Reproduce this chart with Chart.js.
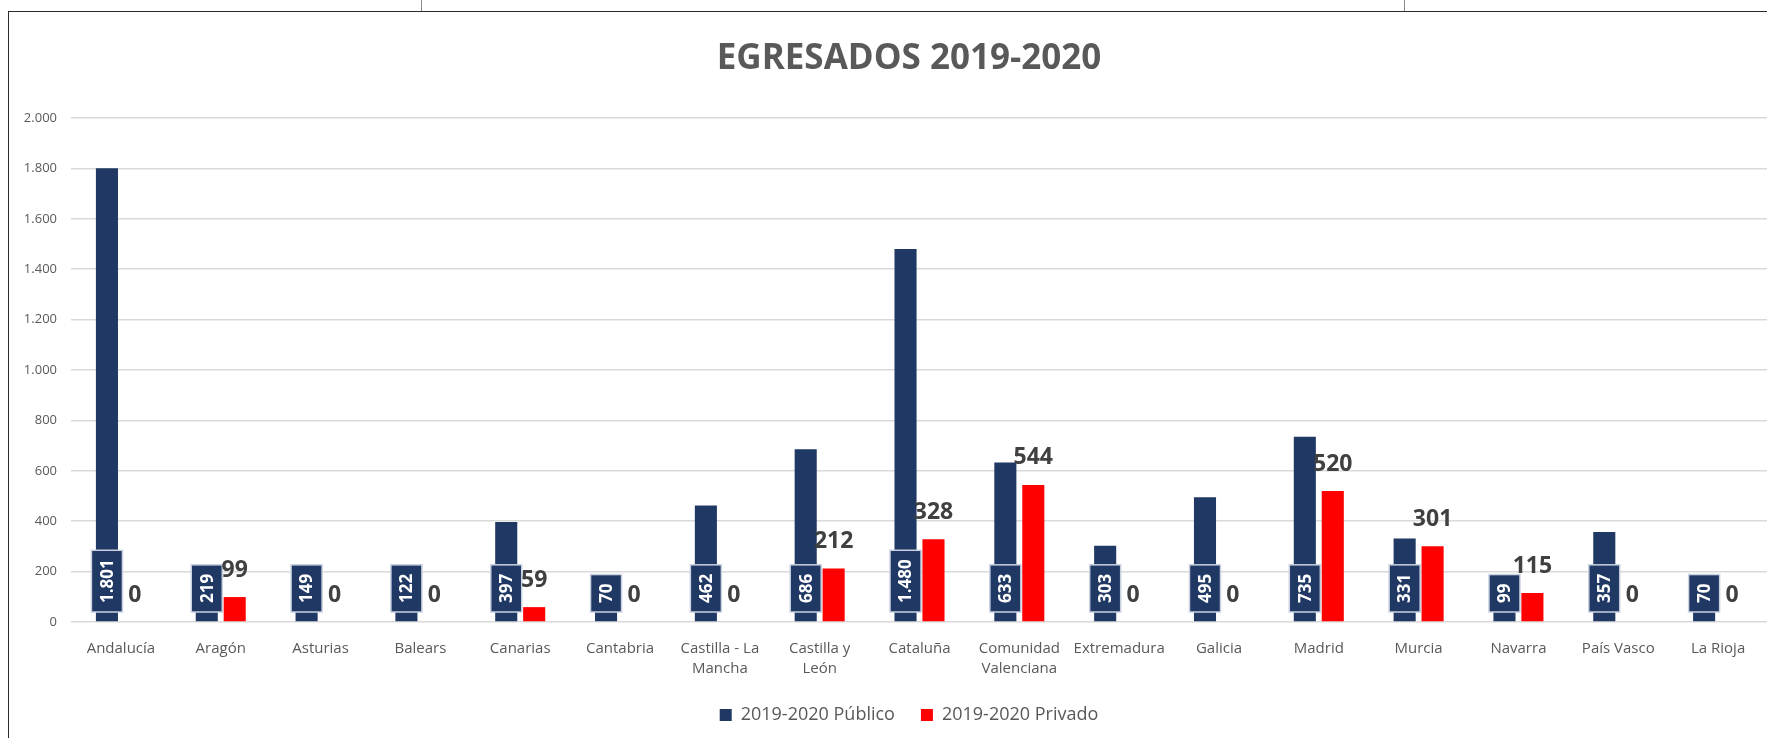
<!DOCTYPE html>
<html>
<head>
<meta charset="utf-8">
<script src="https://cdn.jsdelivr.net/npm/chart.js@4/dist/chart.umd.min.js"></script>
<style>
  html, body { margin: 0; padding: 0; background: #fff; overflow: hidden; }
  #wrap { position: relative; width: 1767px; height: 738px; overflow: hidden; }
  #c { position: absolute; left: 0; top: 0; }
  .frame { position: absolute; left: 8px; top: 11px; width: 1802px; height: 800px;
           border-left: 1.5px solid #2b2b2b; border-top: 1.5px solid #2b2b2b; pointer-events: none; }
  .cell { position: absolute; top: 0; width: 1px; height: 11px; background: #8c8c8c; }
</style>
</head>
<body>
<div id="wrap">
  <canvas id="c" width="1810" height="738"></canvas>
  <div class="frame"></div>
  <div class="cell" style="left:421px"></div>
  <div class="cell" style="left:1404px"></div>
</div>
<script>
// data
var regiones = ["Andalucía", "Aragón", "Asturias", "Balears", "Canarias", "Cantabria",
  ["Castilla - La", "Mancha"], ["Castilla y", "León"], "Cataluña", ["Comunidad", "Valenciana"],
  "Extremadura", "Galicia", "Madrid", "Murcia", "Navarra", "País Vasco", "La Rioja"];
var publico = [1801, 219, 149, 122, 397, 70, 462, 686, 1480, 633, 303, 495, 735, 331, 99, 357, 70];
var privado = [0, 99, 0, 0, 59, 0, 0, 212, 328, 544, 0, 0, 520, 301, 115, 0, 0];
var series = ["2019-2020 Público", "2019-2020 Privado"];
var colores = ["#203864", "#FF0000"];

function fmt(v) {
  if (v >= 1000) return Math.floor(v / 1000) + "." + String(v % 1000).padStart(3, "0");
  return String(v);
}

Chart.defaults.font.family = "'Open Sans', sans-serif";
Chart.defaults.color = "#595959";

// data labels: boxed rotated labels for Público, plain bold numbers for Privado
var barLabels = {
  id: "barLabels",
  afterDatasetsDraw(chart) {
    var ctx = chart.ctx;
    var base = chart.scales.y.getPixelForValue(0);
    chart.getDatasetMeta(0).data.forEach(function (bar, i) {
      var txt = fmt(publico[i]);
      ctx.save();
      ctx.font = "bold 17px 'Open Sans'";
      var tw = ctx.measureText(txt).width;
      var h = tw + 18, w = 31;
      var bottom = base - 10;
      ctx.fillStyle = "#203864";
      ctx.strokeStyle = "#C9D1E0";
      ctx.lineWidth = 1.5;
      ctx.fillRect(bar.x - w / 2, bottom - h, w, h);
      ctx.strokeRect(bar.x - w / 2, bottom - h, w, h);
      ctx.translate(bar.x + 1, bottom - h / 2);
      ctx.rotate(-Math.PI / 2);
      ctx.fillStyle = "#fff";
      ctx.textAlign = "center";
      ctx.textBaseline = "middle";
      ctx.fillText(txt, 0, 0);
      ctx.restore();
    });
    chart.getDatasetMeta(1).data.forEach(function (bar, i) {
      ctx.save();
      ctx.font = "bold 23px 'Open Sans'";
      ctx.fillStyle = "#404040";
      ctx.textAlign = "center";
      ctx.textBaseline = "middle";
      ctx.fillText(fmt(privado[i]), bar.x, bar.y - 27);
      ctx.restore();
    });
  }
};

new Chart(document.getElementById("c"), {
  type: "bar",
  data: {
    labels: regiones,
    datasets: [
      { label: series[0], data: publico, backgroundColor: colores[0],
        categoryPercentage: 0.56, barPercentage: 0.79 },
      { label: series[1], data: privado, backgroundColor: colores[1],
        categoryPercentage: 0.56, barPercentage: 0.79 }
    ]
  },
  options: {
    responsive: false,
    animation: false,
    devicePixelRatio: 1,
    layout: { padding: { left: 8, top: 0, right: 0, bottom: 4 } },
    plugins: {
      title: {
        display: true,
        text: "EGRESADOS 2019-2020",
        color: "#595959",
        font: { size: 35, weight: "bold" },
        padding: { top: 38, bottom: 38 }
      },
      legend: {
        position: "bottom",
        labels: {
          boxWidth: 12, boxHeight: 12, padding: 26,
          color: "#595959",
          font: { size: 18 }
        }
      },
      tooltip: { enabled: false }
    },
    scales: {
      x: {
        grid: { display: false },
        border: { display: false },
        ticks: { padding: 9, color: "#595959", font: { size: 15, lineHeight: 1.33 }, maxRotation: 0, autoSkip: false },
        afterFit: function (s) { s.height = 58; }
      },
      y: {
        min: 0, max: 2000,
        grid: { color: "#D9D9D9", lineWidth: 1.5, drawTicks: false },
        border: { display: false },
        ticks: { stepSize: 200, padding: 14, color: "#595959", font: { size: 13 },
          callback: function (v) { return fmt(v); } },
        afterFit: function (s) { s.width = 63; }
      },
      y2: {
        position: "right",
        grid: { display: false },
        border: { display: false },
        ticks: { display: false },
        afterFit: function (s) { s.width = 42; }
      }
    }
  },
  plugins: [barLabels]
});
</script>
</body>
</html>
